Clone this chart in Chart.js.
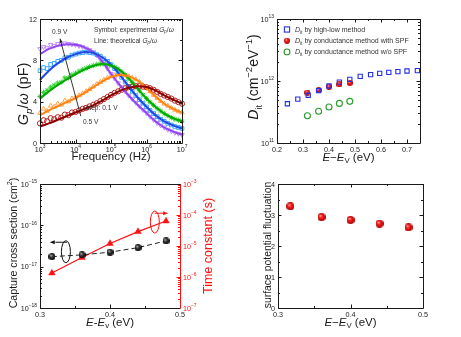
<!DOCTYPE html>
<html>
<head>
<meta charset="utf-8">
<script src="https://cdn.jsdelivr.net/npm/chart.js@4.4.1/dist/chart.umd.min.js"></script>
<style>
  html, body { margin: 0; padding: 0; background: #fff; }
  #wrap { position: relative; width: 461px; height: 337px; }
  canvas { position: absolute; }
</style>
</head>
<body>
<div id="wrap">
  <canvas id="gp" width="230" height="168" style="left:0;top:0"></canvas>
  <canvas id="dit" width="231" height="168" style="left:230px;top:0"></canvas>
  <canvas id="sigma" width="230" height="172" style="left:0;top:165px"></canvas>
  <canvas id="spf" width="231" height="172" style="left:230px;top:165px"></canvas>
</div>
<script>
// ---- Gp/w spectra (pF) vs frequency, 0.5 V ... 0.9 V in 0.1 V steps ----
const symFreq = [1000, 1259, 1585, 1995, 2512, 3162, 3981, 5012, 6310, 7943,
  10000, 12589, 15849, 19953, 25119, 31623, 39811, 50119, 63096, 79433,
  100000, 125893, 158489, 199526, 251189, 316228, 398107, 501187, 630957, 794328,
  1000000, 1258925, 1584893, 1995262, 2511886, 3162278, 3981072, 5011872, 6309573, 7943282, 10000000];
const fitFreq = [1000, 1778, 3162, 5623, 10000, 17783, 31623, 56234, 100000, 177828,
  316228, 562341, 1000000, 1778279, 3162278, 5623413, 10000000];

const gpSym05 = [1.9, 2.2, 2.1, 2.4, 2.3, 2.5, 2.45, 2.75, 2.7, 2.95, 3.0, 3.15, 3.3, 3.4, 3.55, 3.7, 3.85, 4.05, 4.25, 4.45,
  4.65, 4.85, 5.0, 5.15, 5.3, 5.4, 5.45, 5.5, 5.5, 5.45, 5.4, 5.3, 5.15, 4.95, 4.75, 4.6, 4.45, 4.3, 4.1, 3.95, 3.8];
const gpSym06 = [2.9, 3.3, 3.1, 3.6, 3.5, 3.8, 3.7, 4.1, 4.0, 4.3, 4.4, 4.6, 4.8, 5.0, 5.2, 5.45, 5.7, 5.9, 6.1, 6.3,
  6.45, 6.55, 6.6, 6.6, 6.55, 6.45, 6.3, 6.15, 5.9, 5.6, 5.3, 5.0, 4.65, 4.35, 4.05, 3.8, 3.6, 3.4, 3.2, 3.05, 2.95];
const gpSym07 = [4.5, 4.9, 5.1, 5.4, 5.6, 5.8, 5.9, 6.3, 6.3, 6.6, 6.75, 6.95, 7.1, 7.25, 7.4, 7.5, 7.6, 7.65, 7.65, 7.6,
  7.5, 7.35, 7.15, 6.9, 6.6, 6.25, 5.85, 5.45, 5.05, 4.65, 4.3, 3.95, 3.65, 3.35, 3.1, 2.85, 2.65, 2.45, 2.3, 2.2, 2.1];
const gpSym08 = [7.0, 7.3, 7.2, 7.6, 7.7, 7.9, 8.0, 8.25, 8.3, 8.5, 8.6, 8.7, 8.75, 8.8, 8.75, 8.7, 8.55, 8.4, 8.15, 7.9,
  7.6, 7.2, 6.8, 6.35, 5.9, 5.45, 5.0, 4.6, 4.2, 3.85, 3.5, 3.15, 2.85, 2.55, 2.3, 2.1, 1.9, 1.75, 1.6, 1.5, 1.4];
const gpSym09 = [9.1, 9.3, 9.2, 9.5, 9.4, 9.6, 9.55, 9.65, 9.6, 9.55, 9.5, 9.4, 9.3, 9.15, 9.0, 8.8, 8.5, 8.1, 7.7, 7.2,
  6.7, 6.25, 5.8, 5.4, 5.0, 4.6, 4.25, 3.9, 3.55, 3.2, 2.9, 2.55, 2.25, 1.95, 1.7, 1.5, 1.3, 1.15, 1.0, 0.9, 0.8];

const gpFit05 = [1.6, 1.9, 2.25, 2.6, 2.95, 3.3, 3.65, 4.1, 4.6, 5.05, 5.35, 5.5, 5.42, 5.1, 4.6, 4.2, 3.8];
const gpFit06 = [2.7, 3.15, 3.55, 3.95, 4.35, 4.85, 5.4, 5.95, 6.4, 6.6, 6.45, 6.05, 5.3, 4.5, 3.8, 3.3, 2.95];
const gpFit07 = [4.3, 5.0, 5.6, 6.15, 6.65, 7.1, 7.45, 7.65, 7.5, 7.05, 6.25, 5.25, 4.3, 3.5, 2.85, 2.4, 2.1];
const gpFit08 = [6.1, 7.0, 7.7, 8.25, 8.6, 8.8, 8.72, 8.3, 7.6, 6.6, 5.45, 4.4, 3.5, 2.7, 2.1, 1.7, 1.4];
const gpFit09 = [8.6, 9.1, 9.4, 9.55, 9.5, 9.25, 8.8, 7.9, 6.7, 5.6, 4.6, 3.7, 2.9, 2.1, 1.5, 1.1, 0.8];

// ---- interface trap density (cm^-2 eV^-1) vs E - Ev (eV) ----
const hlEnergy = [0.24, 0.28, 0.32, 0.36, 0.40, 0.44, 0.48, 0.52, 0.56, 0.595, 0.63, 0.665, 0.70, 0.74];
const ditHighLow = [4.3e11, 5.1e11, 5.9e11, 7.0e11, 8.3e11, 9.6e11, 1.06e12, 1.19e12, 1.27e12, 1.33e12, 1.38e12, 1.42e12, 1.45e12, 1.47e12];
const condEnergy = [0.317, 0.36, 0.40, 0.44, 0.48];
const ditWithSpf = [6.5e11, 7.1e11, 8.1e11, 8.8e11, 9.3e11];
const ditNoSpf = [2.75e11, 3.25e11, 3.8e11, 4.35e11, 4.7e11];

// ---- capture cross section (cm^2), time constant (s), SPF ----
const crossSection = [1.75e-17, 1.93e-17, 2.24e-17, 2.89e-17, 4.2e-17];
const timeConstant = [1.34e-6, 4.25e-6, 1.2e-5, 2.9e-5, 6.4e-5];
const spfValues = [3.28, 2.93, 2.84, 2.72, 2.60];

// ---- tick values ----
const freqTicks = [1e3, 1e4, 1e5, 1e6, 1e7];
const gpTicks = [0, 4, 8, 12];
const energyTicksWide = [0.2, 0.3, 0.4, 0.5, 0.6, 0.7];
const ditTicks = [1e11, 1e12, 1e13];
const energyTicks = [0.3, 0.4, 0.5];
const sigmaTicks = [1e-18, 1e-17, 1e-16, 1e-15];
const tauTicks = [1e-7, 1e-6, 1e-5, 1e-4, 1e-3];
const spfTicks = [0, 1, 2, 3, 4];

const FONT = "'Liberation Sans', Arial, Helvetica, sans-serif";
const INK = '#1a1a1a';
const RED = '#ff1010';

// text runs: [text, style] with style flags i = italic, b = subscript, p = superscript
function runFont(st, size) {
  const small = st.includes('b') || st.includes('p');
  return (st.includes('i') ? 'italic ' : '') + (small ? size * 0.68 : size).toFixed(2) + 'px ' + FONT;
}
function drawRich(ctx, runs, x, y, size, align, rot, color) {
  ctx.save();
  ctx.translate(x, y);
  if (rot) ctx.rotate(rot);
  ctx.fillStyle = color || INK;
  ctx.textBaseline = 'alphabetic';
  if (runs.length === 1 && !runs[0][1]) {
    // plain text: let the canvas do the alignment
    ctx.font = runFont('', size);
    ctx.textAlign = align || 'left';
    ctx.fillText(runs[0][0], 0, 0);
    ctx.restore();
    return;
  }
  ctx.textAlign = 'left';
  const widths = runs.map(([t, st]) => { ctx.font = runFont(st, size); return ctx.measureText(t).width; });
  const w = widths.reduce((s, v) => s + v, 0);
  let cx = align === 'center' ? -w / 2 : align === 'right' ? -w : 0;
  runs.forEach(([t, st], i) => {
    ctx.font = runFont(st, size);
    const dy = st.includes('b') ? size * 0.26 : st.includes('p') ? -size * 0.42 : 0;
    ctx.fillText(t, cx, dy);
    cx += widths[i];
  });
  ctx.restore();
}

const logFmt = v => [['10', ''], [String(Math.round(Math.log10(v))).replace('-', '\u2212'), 'p']];
const decFmt = d => v => [[v.toFixed(d), '']];

// shaded sphere used as a point marker
function ball(d, hi, mid, edge) {
  const cv = document.createElement('canvas');
  cv.width = cv.height = d;
  const g = cv.getContext('2d');
  const r = d / 2;
  const grd = g.createRadialGradient(r * 0.7, r * 0.6, 0, r, r, r);
  grd.addColorStop(0, hi);
  grd.addColorStop(0.4, mid);
  grd.addColorStop(1, edge);
  g.fillStyle = grd;
  g.beginPath();
  g.arc(r, r, r, 0, Math.PI * 2);
  g.fill();
  return cv;
}
const redBall = ball(8, '#ffd8d8', '#ff2020', '#a80000');
const redBallSm = ball(6, '#ffd8d8', '#ff2020', '#a80000');
const blackBall = ball(7, '#e0e0e0', '#404040', '#000');

// frame, inward ticks on chosen sides, tick labels and axis titles
const axesFrame = {
  id: 'axesFrame',
  afterDatasetsDraw(chart, args, opts) {
    const { ctx, chartArea: a } = chart;
    ctx.save();
    ctx.lineWidth = 1;
    for (const ax of opts.axes) {
      const s = chart.scales[ax.id];
      const col = ax.color || INK;
      ctx.strokeStyle = col;
      const major = s.ticks.map(t => t.value);
      const minor = [];
      if (s.type === 'logarithmic') {
        for (let i = 0; i < major.length - 1; i++) for (let k = 2; k < 10; k++) minor.push(major[i] * k);
      } else {
        const step = major[1] - major[0];
        for (let i = 0; i < major.length - 1; i++) minor.push((major[i] + major[i + 1]) / 2);
        const last = major[major.length - 1] + step / 2;
        if (last <= s.max + 1e-9) minor.push(last);
      }
      for (const side of ax.sides) {
        const tick = (v, len) => {
          const p = Math.round(s.getPixelForValue(v)) + 0.5;
          ctx.beginPath();
          if (side === 'bottom') { ctx.moveTo(p, a.bottom); ctx.lineTo(p, a.bottom - len); }
          if (side === 'top') { ctx.moveTo(p, a.top); ctx.lineTo(p, a.top + len); }
          if (side === 'left') { ctx.moveTo(a.left, p); ctx.lineTo(a.left + len, p); }
          if (side === 'right') { ctx.moveTo(a.right, p); ctx.lineTo(a.right - len, p); }
          ctx.stroke();
        };
        major.forEach(v => tick(v, 3.5));
        minor.forEach(v => tick(v, 2));
      }
      for (const v of major) {
        const p = s.getPixelForValue(v);
        const runs = ax.fmt(v);
        if (ax.label === 'bottom') drawRich(ctx, runs, p, a.bottom + 8.5, 7.2, 'center', 0, col);
        if (ax.label === 'left') drawRich(ctx, runs, a.left - 3, p + 2.5, 7.2, 'right', 0, col);
        if (ax.label === 'right') drawRich(ctx, runs, a.right + 3, p + 2.5, 7.2, 'left', 0, col);
      }
    }
    const edges = Object.assign({ left: INK, right: INK, top: INK, bottom: INK }, opts.edges);
    const L = Math.round(a.left) + 0.5, R = Math.round(a.right) + 0.5;
    const T = Math.round(a.top) + 0.5, B = Math.round(a.bottom) + 0.5;
    const seg = (x0, y0, x1, y1, c) => { ctx.strokeStyle = c; ctx.beginPath(); ctx.moveTo(x0, y0); ctx.lineTo(x1, y1); ctx.stroke(); };
    seg(L, T, R, T, edges.top);
    seg(L, B, R, B, edges.bottom);
    seg(L, T, L, B, edges.left);
    seg(R, T, R, B, edges.right);
    for (const t of opts.titles) {
      const size = t.size || 11.5;
      if (t.side === 'bottom') drawRich(ctx, t.runs, (a.left + a.right) / 2, a.bottom + t.off, size, 'center', 0, t.color);
      else {
        const x = t.side === 'left' ? a.left - t.off : a.right + t.off;
        const y = t.along != null ? a.top + t.along : (a.top + a.bottom) / 2;
        drawRich(ctx, t.runs, x, y, size, 'center', -Math.PI / 2, t.color);
      }
    }
    ctx.restore();
  }
};
Chart.register(axesFrame);

function axis(type, min, max, ticks, size, extra) {
  return Object.assign({
    type, min, max,
    grid: { display: false, drawTicks: false },
    border: { display: false },
    ticks: { display: false },
    afterBuildTicks: s => { s.ticks = ticks.map(v => ({ value: v })); },
    afterFit: s => { if (s.isHorizontal()) s.height = size; else s.width = size; }
  }, extra || {});
}
function baseOptions(padding, frame) {
  return {
    responsive: false,
    animation: false,
    events: [],
    layout: { padding },
    plugins: { legend: { display: false }, tooltip: { enabled: false }, axesFrame: frame }
  };
}
const points = (xs, ys) => xs.map((x, i) => ({ x, y: ys[i] }));
function arrowHead(ctx, x0, y0, x1, y1, len, half) {
  const ang = Math.atan2(y1 - y0, x1 - x0);
  ctx.beginPath();
  ctx.moveTo(x1, y1);
  ctx.lineTo(x1 - len * Math.cos(ang) + half * Math.sin(ang), y1 - len * Math.sin(ang) - half * Math.cos(ang));
  ctx.lineTo(x1 - len * Math.cos(ang) - half * Math.sin(ang), y1 - len * Math.sin(ang) + half * Math.cos(ang));
  ctx.closePath();
  ctx.fill();
}

// ================= Gp/w vs frequency =================
const biasSets = [
  { label: '0.5 V', sym: gpSym05, fit: gpFit05, symColor: '#b3201f', lineColor: '#8b0000', style: 'circle', rot: 0 },
  { label: '0.6 V', sym: gpSym06, fit: gpFit06, symColor: '#ffa24a', lineColor: '#ff8412', style: 'triangle', rot: 0 },
  { label: '0.7 V', sym: gpSym07, fit: gpFit07, symColor: '#2fd12f', lineColor: '#00a800', style: 'star', rot: 0 },
  { label: '0.8 V', sym: gpSym08, fit: gpFit08, symColor: '#38a8ff', lineColor: '#1f48e6', style: 'rect', rot: 0 },
  { label: '0.9 V', sym: gpSym09, fit: gpFit09, symColor: '#bf8dff', lineColor: '#9444f2', style: 'triangle', rot: 180 }
];
const gpDatasets = [];
biasSets.forEach(b => {
  gpDatasets.push({
    label: b.label + ' experimental', data: points(symFreq, b.sym), order: 1, clip: false,
    pointStyle: b.style, rotation: b.rot, pointRadius: 2.6, pointBorderWidth: 1,
    pointBorderColor: b.symColor, pointBackgroundColor: 'rgba(0,0,0,0)', showLine: false
  });
  gpDatasets.push({
    label: b.label + ' theoretical', data: points(fitFreq, b.fit), order: 0, clip: false,
    showLine: true, pointRadius: 0, borderColor: b.lineColor, borderWidth: 2,
    cubicInterpolationMode: 'monotone'
  });
});

const gpNotes = {
  id: 'gpNotes',
  afterDatasetsDraw(chart) {
    const { ctx, chartArea: a, scales: { x, y } } = chart;
    ctx.save();
    const fs = 6.6;
    drawRich(ctx, [['Symbol: experimental ', ''], ['G', 'i'], ['p', 'ib'], ['/', ''], ['\u03c9', 'i']], a.left + 54, a.top + 12.5, fs, 'left', 0, '#333');
    drawRich(ctx, [['Line: theoretical ', ''], ['G', 'i'], ['p', 'ib'], ['/', ''], ['\u03c9', 'i']], a.left + 54, a.top + 23.5, fs, 'left', 0, '#333');
    drawRich(ctx, [['0.9 V', '']], a.left + 12, a.top + 15, fs, 'left', 0, '#333');
    drawRich(ctx, [['step: 0.1 V', '']], a.left + 46, a.top + 90.5, fs, 'left', 0, '#333');
    drawRich(ctx, [['0.5 V', '']], a.left + 43, a.top + 104.5, fs, 'left', 0, '#333');
    // bias direction: 0.5 V -> 0.9 V
    const x0 = x.getPixelForValue(14100), y0 = y.getPixelForValue(2.6);
    const x1 = x.getPixelForValue(3670), y1 = y.getPixelForValue(10.1);
    ctx.strokeStyle = '#222';
    ctx.fillStyle = '#222';
    ctx.lineWidth = 0.9;
    ctx.beginPath();
    ctx.moveTo(x0, y0);
    ctx.lineTo(x1, y1);
    ctx.stroke();
    arrowHead(ctx, x0, y0, x1, y1, 4, 1.6);
    ctx.restore();
  }
};

new Chart(document.getElementById('gp'), {
  type: 'scatter',
  data: { datasets: gpDatasets },
  options: Object.assign(baseOptions({ left: 0, right: 48, top: 19, bottom: 0 }, {
    axes: [
      { id: 'x', sides: ['bottom', 'top'], label: 'bottom', fmt: logFmt },
      { id: 'y', sides: ['left', 'right'], label: 'left', fmt: decFmt(0) }
    ],
    titles: [
      { runs: [['Frequency (Hz)', '']], side: 'bottom', off: 17 },
      { runs: [['G', 'i'], ['p', 'ib'], ['/', ''], ['\u03c9', 'i'], [' (pF)', '']], side: 'left', off: 12, along: 75, size: 14.5 }
    ]
  }), {
    scales: {
      x: axis('logarithmic', 1e3, 1e7, freqTicks, 25),
      y: axis('linear', 0, 12, gpTicks, 40)
    }
  }),
  plugins: [gpNotes]
});

// ================= Dit vs energy =================
const ditLegendRows = [
  { mark: 'square', runs: [['D', 'i'], ['it', 'b'], [' by high-low method', '']] },
  { mark: 'ball', runs: [['D', 'i'], ['it', 'b'], [' by conductance method with SPF', '']] },
  { mark: 'ring', runs: [['D', 'i'], ['it', 'b'], [' by conductance method w/o SPF', '']] }
];
const ditLegend = {
  id: 'ditLegend',
  afterDatasetsDraw(chart) {
    const { ctx, chartArea: a } = chart;
    ctx.save();
    ditLegendRows.forEach((row, i) => {
      const cx = a.left + 10, cy = a.top + 10.5 + i * 11.2;
      ctx.lineWidth = 1.1;
      if (row.mark === 'square') {
        ctx.strokeStyle = '#2430e8';
        ctx.strokeRect(cx - 2.6, cy - 2.6, 5.2, 5.2);
      } else if (row.mark === 'ball') {
        ctx.drawImage(redBallSm, cx - 3, cy - 3);
      } else {
        ctx.strokeStyle = '#2a9a2a';
        ctx.beginPath();
        ctx.arc(cx, cy, 2.9, 0, Math.PI * 2);
        ctx.stroke();
      }
      drawRich(ctx, row.runs, a.left + 18, cy + 2.5, 7, 'left', 0, '#333');
    });
    ctx.restore();
  }
};

new Chart(document.getElementById('dit'), {
  type: 'scatter',
  data: {
    datasets: [
      {
        label: 'Dit by high-low method', data: points(hlEnergy, ditHighLow), order: 0, clip: false,
        pointStyle: 'rect', pointRadius: 3, pointBorderWidth: 1.1,
        pointBorderColor: '#2430e8', pointBackgroundColor: 'rgba(0,0,0,0)'
      },
      {
        label: 'Dit by conductance method with SPF', data: points(condEnergy, ditWithSpf), order: 1, clip: false,
        pointStyle: redBallSm, pointRadius: 3
      },
      {
        label: 'Dit by conductance method w/o SPF', data: points(condEnergy, ditNoSpf), order: 2, clip: false,
        pointStyle: 'circle', pointRadius: 3, pointBorderWidth: 1.1,
        pointBorderColor: '#2a9a2a', pointBackgroundColor: 'rgba(0,0,0,0)'
      }
    ]
  },
  options: Object.assign(baseOptions({ left: 0, right: 41, top: 19, bottom: 0 }, {
    axes: [
      { id: 'x', sides: ['bottom', 'top'], label: 'bottom', fmt: decFmt(1) },
      { id: 'y', sides: ['left', 'right'], label: 'left', fmt: logFmt }
    ],
    titles: [
      { runs: [['E', 'i'], ['\u2212', ''], ['E', 'i'], ['V', 'b'], [' (eV)', '']], side: 'bottom', off: 17.5 },
      { runs: [['D', 'i'], ['it', 'b'], [' (cm', ''], ['\u22122', 'p'], ['eV', ''], ['\u22121', 'p'], [')', '']], side: 'left', off: 19, along: 58, size: 14 }
    ]
  }), {
    scales: {
      x: axis('linear', 0.2, 0.75, energyTicksWide, 25),
      y: axis('logarithmic', 1e11, 1e13, ditTicks, 47)
    }
  }),
  plugins: [ditLegend]
});

// ================= capture cross section & time constant =================
const sigmaNotes = {
  id: 'sigmaNotes',
  afterDatasetsDraw(chart) {
    const { ctx, scales: { x, y } } = chart;
    ctx.save();
    ctx.lineWidth = 1;
    // black loop pointing to the left axis
    let cx = x.getPixelForValue(0.337), cy = y.getPixelForValue(2.3e-17);
    ctx.strokeStyle = '#111';
    ctx.fillStyle = '#111';
    ctx.beginPath();
    ctx.ellipse(cx, cy, 4.5, 11, 0, 0, Math.PI * 2);
    ctx.stroke();
    let ay = y.getPixelForValue(3.9e-17);
    ctx.beginPath();
    ctx.moveTo(cx + 1, ay);
    ctx.lineTo(x.getPixelForValue(0.322), ay);
    ctx.stroke();
    arrowHead(ctx, cx, ay, x.getPixelForValue(0.314), ay, 5, 2);
    // red loop pointing to the right axis
    cx = x.getPixelForValue(0.464);
    cy = y.getPixelForValue(1.2e-16);
    ctx.strokeStyle = RED;
    ctx.fillStyle = RED;
    ctx.beginPath();
    ctx.ellipse(cx, cy, 4.5, 11, 0, 0, Math.PI * 2);
    ctx.stroke();
    ay = y.getPixelForValue(1.96e-16);
    ctx.beginPath();
    ctx.moveTo(cx, ay);
    ctx.lineTo(x.getPixelForValue(0.476), ay);
    ctx.stroke();
    arrowHead(ctx, cx, ay, x.getPixelForValue(0.483), ay, 5, 2);
    ctx.restore();
  }
};

new Chart(document.getElementById('sigma'), {
  type: 'scatter',
  data: {
    datasets: [
      {
        label: 'Capture cross section', data: points(condEnergy, crossSection), yAxisID: 'y', order: 0, clip: false,
        showLine: true, borderColor: '#222', borderWidth: 1, borderDash: [5, 3],
        pointStyle: blackBall, pointRadius: 3.5
      },
      {
        label: 'Time constant', data: points(condEnergy, timeConstant), yAxisID: 'y1', order: 1, clip: false,
        showLine: true, borderColor: RED, borderWidth: 1.2,
        pointStyle: 'triangle', pointRadius: 3.8, pointBorderWidth: 0.5,
        pointBackgroundColor: RED, pointBorderColor: RED
      }
    ]
  },
  options: Object.assign(baseOptions({ left: 0, right: 0, top: 19, bottom: 0 }, {
    axes: [
      { id: 'x', sides: ['bottom', 'top'], label: 'bottom', fmt: decFmt(1) },
      { id: 'y', sides: ['left'], label: 'left', fmt: logFmt },
      { id: 'y1', sides: ['right'], label: 'right', fmt: logFmt, color: RED }
    ],
    edges: { right: RED },
    titles: [
      { runs: [['E', 'i'], ['-', ''], ['E', 'i'], ['v', 'b'], [' (eV)', '']], side: 'bottom', off: 17.5 },
      { runs: [['Capture cross section (cm', ''], ['2', 'p'], [')', '']], side: 'left', off: 23.5, along: 59, size: 10.6 },
      { runs: [['Time constant (s)', '']], side: 'right', off: 32, along: 62, size: 12.5, color: RED }
    ]
  }), {
    scales: {
      x: axis('linear', 0.3, 0.5, energyTicks, 29),
      y: axis('logarithmic', 1e-18, 1e-15, sigmaTicks, 40, { position: 'left' }),
      y1: axis('logarithmic', 1e-7, 1e-3, tauTicks, 50, { position: 'right' })
    }
  }),
  plugins: [sigmaNotes]
});

// ================= surface potential fluctuation =================
new Chart(document.getElementById('spf'), {
  type: 'scatter',
  data: {
    datasets: [{
      label: 'surface potential fluctuation', data: points(condEnergy, spfValues), clip: false,
      pointStyle: redBall, pointRadius: 4
    }]
  },
  options: Object.assign(baseOptions({ left: 0, right: 38, top: 19, bottom: 0 }, {
    axes: [
      { id: 'x', sides: ['bottom', 'top'], label: 'bottom', fmt: decFmt(1) },
      { id: 'y', sides: ['left', 'right'], label: 'left', fmt: decFmt(0) }
    ],
    titles: [
      { runs: [['E', 'i'], ['\u2212', ''], ['E', 'i'], ['V', 'b'], [' (eV)', '']], side: 'bottom', off: 17.5 },
      { runs: [['surface potential fluctuation', '']], side: 'left', off: 7.5, along: 61, size: 10.4 }
    ]
  }), {
    scales: {
      x: axis('linear', 0.3, 0.5, energyTicks, 29),
      y: axis('linear', 0, 4, spfTicks, 48)
    }
  })
});
</script>
</body>
</html>
